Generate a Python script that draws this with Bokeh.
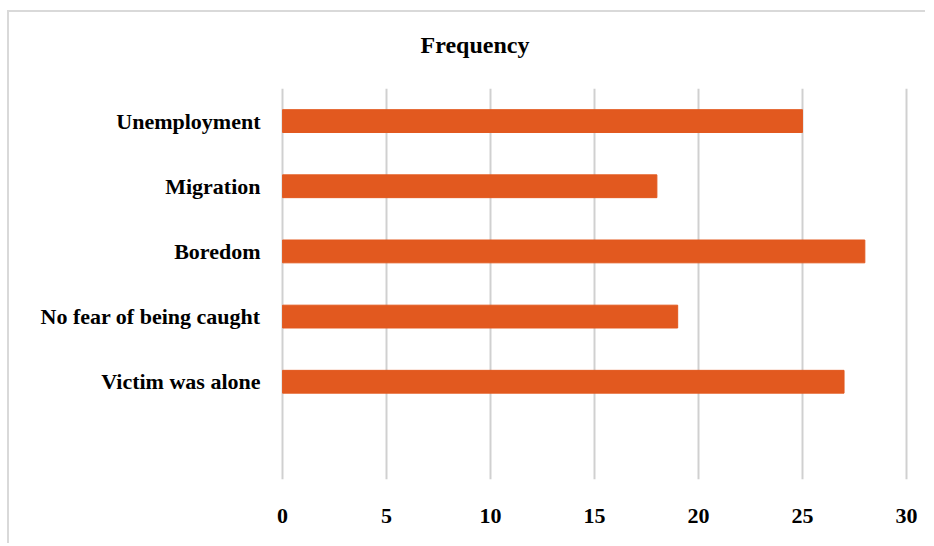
from bokeh.plotting import figure
from bokeh.models import FactorRange, Range1d, ColumnDataSource, FixedTicker, Title
from bokeh.embed import file_html
from bokeh.resources import INLINE

title_text = "Frequency"
categories = ["Unemployment", "Migration", "Boredom", "No fear of being caught", "Victim was alone"]
frequency = [25, 18, 28, 19, 27]
x_ticks = [0, 5, 10, 15, 20, 25, 30]

# bottom slot is empty in the original chart
factors = [" "] + categories[::-1]

src = ColumnDataSource(dict(cat=categories, val=frequency))

p = figure(width=918, height=533, y_range=FactorRange(factors=factors),
           x_range=Range1d(-0.1, 30.1), output_backend="svg", toolbar_location=None,
           title=title_text)
p.styles = {"border-left": "2px solid #d9d9d9", "border-top": "2px solid #d9d9d9",
            "border-right": "0px", "outline": "none",
            "margin-top": "10px", "margin-left": "7px"}
p.min_border_left = 271
p.min_border_right = 19
p.min_border_top = 76
p.min_border_bottom = 66
p.outline_line_color = None
p.background_fill_color = "white"
p.border_fill_color = "white"

p.hbar(y="cat", right="val", left=0, height=0.35, source=src,
       fill_color="#E2591F", line_color="#E2591F")

font = "Liberation Serif"
# spacer between the title and the plot frame
p.add_layout(Title(text=" ", text_font_size="1px", standoff=28), "above")
p.title.text_font = font
p.title.text_font_size = "24px"
p.title.text_font_style = "bold"
p.title.text_color = "black"
p.title.align = "left"
p.title.offset = 140
p.title.standoff = 0

p.xaxis.ticker = FixedTicker(ticks=x_ticks)
for ax in (p.xaxis[0], p.yaxis[0]):
    ax.axis_line_color = None
    ax.major_tick_line_color = None
    ax.minor_tick_line_color = None
    ax.major_tick_out = 0
    ax.major_tick_in = 0
    ax.major_label_text_font = font
    ax.major_label_text_font_size = "22px"
    ax.major_label_text_font_style = "bold"
    ax.major_label_text_color = "black"
p.xaxis.major_label_standoff = 29
p.yaxis.major_label_standoff = 20

p.xgrid.grid_line_color = "#d0d0d0"
p.xgrid.grid_line_width = 2
p.ygrid.grid_line_color = None

open("out.html", "w").write(file_html(p, INLINE))
